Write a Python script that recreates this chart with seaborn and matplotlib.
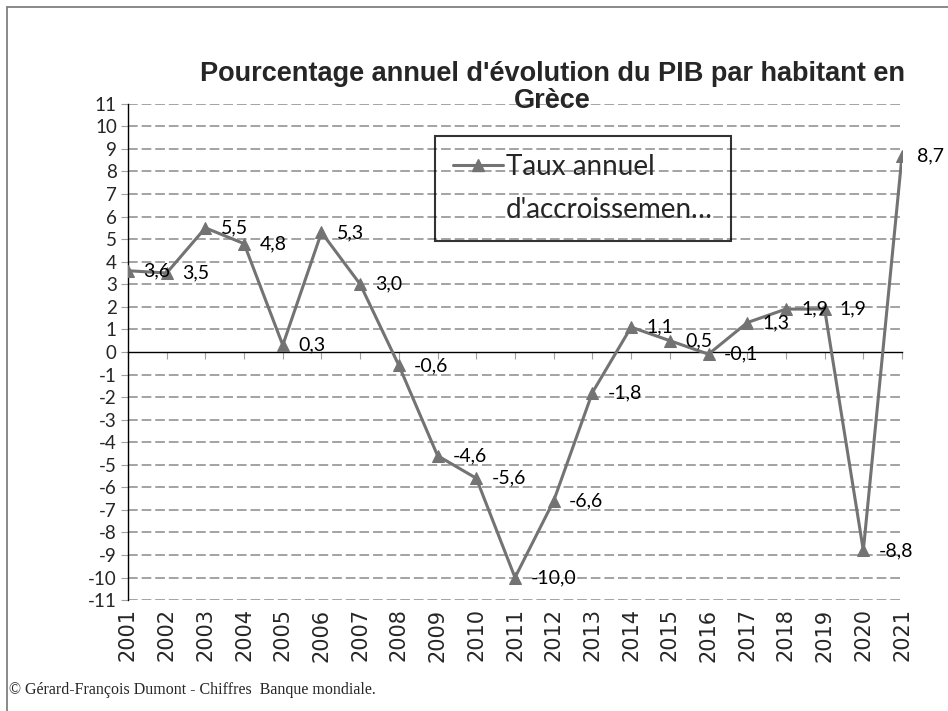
import matplotlib
matplotlib.use("Agg")
import matplotlib.pyplot as plt
from matplotlib.lines import Line2D
import seaborn as sns
import pandas as pd

# Données : taux annuel d'évolution du PIB par habitant, Grèce
annees = list(range(2001, 2022))
taux = [3.6, 3.5, 5.5, 4.8, 0.3, 5.3, 3.0, -0.6, -4.6, -5.6, -10.0,
        -6.6, -1.8, 1.1, 0.5, -0.1, 1.3, 1.9, 1.9, -8.8, 8.7]
y_ticks = list(range(-11, 12))

titre = "Pourcentage annuel d'évolution du PIB par habitant en\nGrèce"
legende_l1 = "Taux annuel"
legende_l2 = "d'accroissemen…"
source = "© Gérard-François Dumont - Chiffres  Banque mondiale."

df = pd.DataFrame({"annee": annees, "taux": taux})

sns.set_style("white")
plt.rcParams['font.family'] = ['Lato', 'DejaVu Sans']
plt.rcParams['axes.unicode_minus'] = False

gris = '#737373'
fig = plt.figure(figsize=(9.48, 7.11), dpi=100)
ax = fig.add_axes([0.135, 0.156, 0.8165, 0.698])

# grille pointillée
for v in y_ticks:
    if v != 0:
        ax.axhline(v, color='#a3a3a3', lw=1.4, dashes=(5, 2), zorder=1)

sns.lineplot(data=df, x="annee", y="taux", ax=ax, color=gris, lw=2.2,
             marker='^', markersize=8, markeredgecolor=gris, zorder=3)

# étiquettes de données
for a, t in zip(annees, taux):
    ax.annotate(f"{t:.1f}".replace('.', ','), (a, t), xytext=(11, 0),
                textcoords='offset points', ha='left', va='center',
                fontsize=14, color='black', zorder=4)

ax.set_xlim(2001, 2021)
ax.set_ylim(-11, 11)
ax.set_yticks(y_ticks)
ax.set_xlabel("")
ax.set_ylabel("")
ax.tick_params(axis='y', direction='out', length=5, color='#a0a0a0',
               labelsize=13.5, pad=3, left=True)

for s in ['top', 'right']:
    ax.spines[s].set_visible(False)
ax.spines['left'].set_color('black')
ax.spines['left'].set_linewidth(1)
ax.spines['bottom'].set_position(('data', 0))
ax.spines['bottom'].set_color('black')
ax.spines['bottom'].set_linewidth(1)
ax.set_xticks(annees)
ax.tick_params(axis='x', direction='out', length=5, color='#a0a0a0',
               labelbottom=False, bottom=True)

# libellés des années en bas du graphique
sec = ax.secondary_xaxis(0)
sec.set_xticks(annees)
sec.set_xticklabels([str(a) for a in annees], rotation=90,
                    family=['Liberation Sans Narrow', 'DejaVu Sans'], fontsize=15)
sec.tick_params(length=0, pad=6)
sec.spines['bottom'].set_visible(False)

# légende
h1 = Line2D([], [], color=gris, lw=2.2, marker='^', markersize=8)
h2 = Line2D([], [], color='none')
leg = ax.legend([h1, h2], [legende_l1, legende_l2], loc='upper left',
                bbox_to_anchor=(0.397, 0.935), borderaxespad=0, fontsize=20,
                handlelength=1.8, handletextpad=0.1, labelspacing=0.6,
                borderpad=0.65, fancybox=False, frameon=True)
leg.get_frame().set_edgecolor('black')
leg.get_frame().set_linewidth(1.5)
leg.get_frame().set_facecolor('none')

fig.text(0.583, 0.877, titre, ha='center', va='center', fontsize=19.5,
         fontweight='bold', family=['Liberation Sans', 'DejaVu Sans'],
         linespacing=1.05)

fig.text(0.01, 0.03, source, ha='left', va='center', fontsize=11.5,
         family=['Liberation Serif', 'DejaVu Serif'])

# cadre extérieur
fig.add_artist(Line2D([0.0075, 1], [0.99, 0.99], color='#808080', lw=1.3,
                      transform=fig.transFigure))
fig.add_artist(Line2D([0.0075, 0.0075], [0, 0.99], color='#808080', lw=1.3,
                      transform=fig.transFigure))

fig.savefig("out.png", dpi=100)
